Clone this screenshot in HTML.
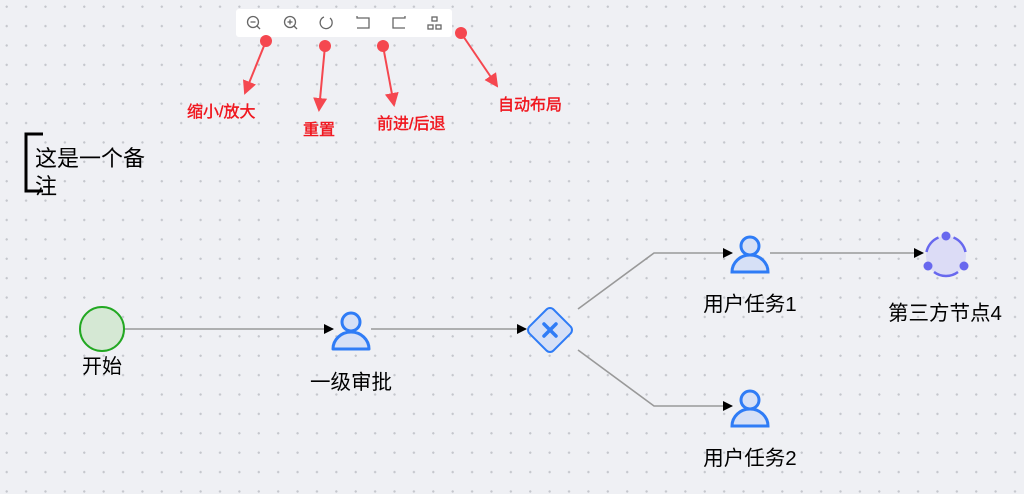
<!DOCTYPE html>
<html><head><meta charset="utf-8"><style>
html,body{margin:0;padding:0;width:1024px;height:494px;overflow:hidden;background:#eff0f4;
background-image:radial-gradient(circle,#c4c6cc 1px,transparent 1.3px);background-size:19.4px 19.4px;background-position:-3px -3px;}
svg{position:absolute;left:0;top:0}
text{font-family:"Liberation Sans","Noto Sans CJK SC",sans-serif}
</style></head><body>
<svg width="1024" height="494" viewBox="0 0 1024 494">
<defs>
<marker id="a" markerWidth="10" markerHeight="10" refX="9" refY="5" orient="auto" markerUnits="userSpaceOnUse"><path d="M0,0 L10,5 L0,10z" fill="#000"/></marker>
<marker id="r" markerWidth="14" markerHeight="14" refX="12" refY="7" orient="auto" markerUnits="userSpaceOnUse"><path d="M0,0 L14,7 L0,14z" fill="#f5474f"/></marker>
</defs>
<rect x="236" y="9" width="216" height="28" rx="3" fill="#fff"/>
<g stroke="#666" stroke-width="1.3" fill="none">
<circle cx="253" cy="22" r="5.5"/><line x1="257" y1="26" x2="260" y2="29"/><line x1="250.5" y1="22" x2="255.5" y2="22"/>
<circle cx="290" cy="22" r="5.5"/><line x1="294" y1="26" x2="297" y2="29"/><line x1="287.5" y1="22" x2="292.5" y2="22"/><line x1="290" y1="19.5" x2="290" y2="24.5"/>
<path d="M324,17 A6,6 0 1 0 330,18"/>
<path d="M357,16 v2 h12 v10 h-12"/><path d="M405,16 v2 h-12 v10 h12"/>
<rect x="432" y="17" width="5" height="4"/><rect x="428" y="25" width="5" height="4"/><rect x="436" y="25" width="5" height="4"/>
</g>
<g stroke="#f5474f" stroke-width="2" fill="#f5474f">
<line x1="266" y1="41" x2="245" y2="93" marker-end="url(#r)"/>
<line x1="325" y1="46" x2="319" y2="110" marker-end="url(#r)"/>
<line x1="383" y1="46" x2="394" y2="105" marker-end="url(#r)"/>
<line x1="461" y1="33" x2="497" y2="86" marker-end="url(#r)"/>
<g stroke="none"><circle cx="266" cy="41" r="6"/><circle cx="325" cy="46" r="6"/><circle cx="383" cy="46" r="6"/><circle cx="461" cy="33" r="6"/></g>
</g>
<g fill="#f0161e" font-size="16" stroke="#f0161e" stroke-width="0.4">
<text x="187" y="117">缩小/放大</text>
<text x="303" y="135">重置</text>
<text x="377" y="129">前进/后退</text>
<text x="498" y="110">自动布局</text>
</g>
<path d="M43,134 H26 V191 H43" stroke="#000" stroke-width="3" fill="none"/>
<text x="35" y="166" font-size="22">这是一个备</text>
<text x="35" y="194" font-size="22">注</text>
<g stroke="#999" stroke-width="1.6" fill="none">
<line x1="124" y1="329" x2="333" y2="329" marker-end="url(#a)"/>
<line x1="371" y1="329" x2="526" y2="329" marker-end="url(#a)"/>
<polyline points="578,309 654,253 732,253" marker-end="url(#a)"/>
<polyline points="578,350 654,406 732,406" marker-end="url(#a)"/>
<line x1="770" y1="253" x2="923" y2="253" marker-end="url(#a)"/>
</g>
<circle cx="102" cy="329" r="22" fill="#d5e8d4" stroke="#22a822" stroke-width="2"/>
<text x="102" y="373" font-size="20" text-anchor="middle">开始</text>
<g stroke="#2f7cf6" stroke-width="3" fill="#d6e0f6">
<circle cx="351" cy="322" r="9"/><path d="M333,349 A18,17 0 0 1 369,349 Z" stroke-linejoin="round"/>
<circle cx="750" cy="246" r="9"/><path d="M732,272 A18,17 0 0 1 768,272 Z"/>
<circle cx="750" cy="400" r="9"/><path d="M732,426 A18,17 0 0 1 768,426 Z"/>
</g>
<text x="351" y="389" font-size="20.5" text-anchor="middle">一级审批</text>
<text x="750" y="311" font-size="20.5" text-anchor="middle">用户任务1</text>
<text x="750" y="465" font-size="20.5" text-anchor="middle">用户任务2</text>
<rect x="533" y="313" width="34" height="34" rx="5" transform="rotate(45 550 330)" fill="#d6e0f6" stroke="#2f7cf6" stroke-width="2"/>
<g stroke="#2f7cf6" stroke-width="3.5" stroke-linecap="round"><line x1="544" y1="324" x2="556" y2="336"/><line x1="556" y1="324" x2="544" y2="336"/></g>
<circle cx="946" cy="256" r="20" fill="#dcdcf6"/>
<g stroke="#6868ee" stroke-width="2.5" fill="none">
<path d="M953.5,237.5 A20,20 0 0 1 965.5,252"/>
<path d="M958,272 A20,20 0 0 1 934,272"/>
<path d="M926.5,252 A20,20 0 0 1 938.5,237.5"/>
</g>
<g fill="#6868ee"><circle cx="946" cy="236" r="4.5"/><circle cx="928" cy="266" r="4.5"/><circle cx="964" cy="266" r="4.5"/></g>
<text x="945" y="320" font-size="20.5" text-anchor="middle">第三方节点4</text>
</svg>
</body></html>
